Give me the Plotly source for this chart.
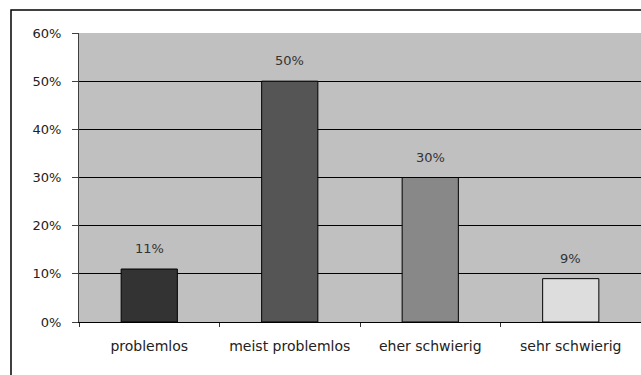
import plotly.graph_objects as go

categories = ["problemlos", "meist problemlos", "eher schwierig", "sehr schwierig"]
shares = [0.11, 0.50, 0.30, 0.09]
bar_colors = ["#333333", "#555555", "#888888", "#dddddd"]
y_ticks = [0, 0.1, 0.2, 0.3, 0.4, 0.5, 0.6]
y_tick_labels = ["0%", "10%", "20%", "30%", "40%", "50%", "60%"]

FONT = "DejaVu Sans"

fig = go.Figure(
    go.Bar(
        x=categories,
        y=shares,
        marker=dict(color=bar_colors, line=dict(color="#000000", width=1)),
        width=0.4,
        hoverinfo="skip",
    )
)

# value labels floating above each bar
for cat, val in zip(categories, shares):
    fig.add_annotation(
        x=cat, y=val, text=f"{round(val * 100)}%",
        showarrow=False, yanchor="bottom", yshift=11,
        font=dict(family=FONT, size=13, color="#333333"),
    )

# outer chart frame
fig.add_shape(
    type="rect", xref="paper", yref="paper",
    x0=-0.121, x1=1.05, y0=-0.3, y1=1.0796,
    line=dict(color="#000000", width=1.5), fillcolor="rgba(0,0,0,0)", layer="below",
)

fig.update_layout(
    width=641, height=375,
    margin=dict(l=79, r=0, t=33, b=53),
    paper_bgcolor="#ffffff",
    plot_bgcolor="#c0c0c0",
    showlegend=False,
    font=dict(family=FONT, size=13, color="#222222"),
)

fig.update_xaxes(
    type="category",
    tickson="boundaries",
    ticks="outside", ticklen=4, tickcolor="#333333",
    showline=True, linecolor="#000000", linewidth=1,
    showgrid=False,
    ticklabelstandoff=11,
    tickfont=dict(family=FONT, size=14, color="#222222"),
    range=[-0.5, 3.5],
)

fig.update_yaxes(
    range=[0, 0.6],
    tickvals=y_ticks, ticktext=y_tick_labels,
    ticks="outside", ticklen=6, tickcolor="#404040",
    showline=True, linecolor="#404040", linewidth=1,
    showgrid=True, gridcolor="#000000", gridwidth=1,
    zeroline=False,
    ticklabelstandoff=8,
    tickfont=dict(family=FONT, size=13, color="#222222"),
)

fig.write_html("out.html")
